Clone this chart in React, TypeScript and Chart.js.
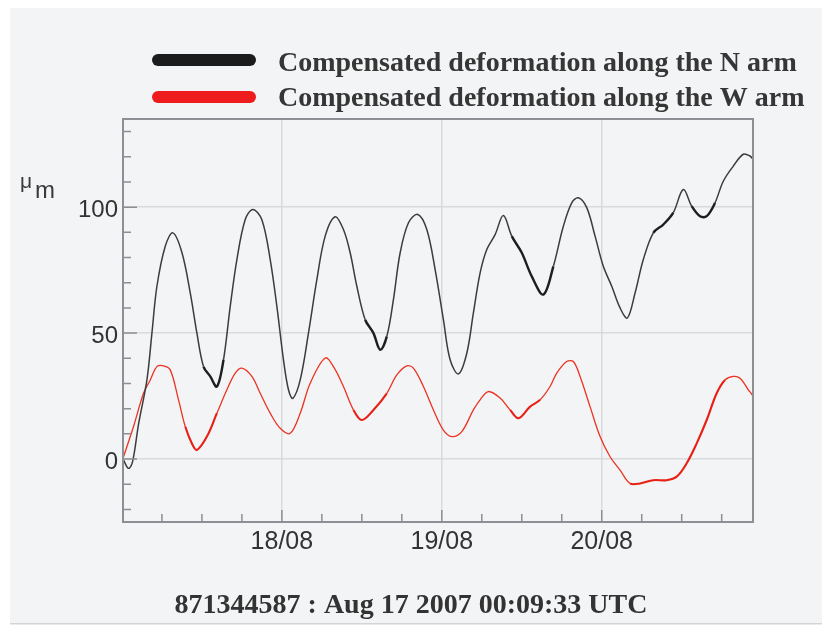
import React, { useEffect, useRef } from 'react';
import { Chart, registerables } from 'chart.js';

Chart.register(...registerables);

// ---- data (hours since Aug 17 2007 00:00 UTC, deformation in μm) ----
const seriesNames = [
  'Compensated deformation along the N arm',
  'Compensated deformation along the W arm',
];
const seriesColors = ['#3c3c3c', '#ec3323'];
const noisyColors = ['#1e1e1e', '#e81f14'];
const legendColors = ['#1c1c1c', '#ee1c1c'];
const footerText = '871344587 : Aug 17 2007 00:09:33 UTC';
const yUnitPrefix = 'μ';
const yUnitBase = 'm';

const hoursN = [0.16, 0.99, 1.6, 2.5, 3.75, 4.5, 5.25, 6.5, 7.65, 9.0, 10.25, 11.25, 12.24, 13.25, 14.25, 15.24, 16.25, 17.25, 18.5, 19.65, 21.0, 22.25, 23.25, 24.24, 24.99, 25.65, 26.75, 27.99, 29.25, 30.5, 32.0, 33.24, 34.25, 35.25, 36.5, 37.74, 38.75, 39.75, 40.74, 41.75, 43.0, 44.4, 45.75, 47.0, 48.24, 49.25, 50.5, 51.75, 52.74, 53.75, 54.75, 56.0, 57.24, 58.5, 60.0, 61.5, 63.24, 64.74, 66.24, 67.5, 68.49, 69.75, 71.0, 72.24, 73.5, 74.75, 75.84, 77.0, 78.24, 79.74, 81.24, 82.74, 84.24, 85.5, 86.75, 87.75, 89.0, 90.24, 91.74, 93.24, 94.25, 94.7];
const valuesN = [0, -3.7, -1, 14, 31.4, 50, 68.6, 84.5, 89.8, 82, 66, 50, 36.7, 32.8, 28.8, 39.4, 60.6, 79.2, 95.1, 99.1, 95, 79.2, 60.6, 39.4, 27.5, 24.1, 31.4, 50, 71.2, 88.5, 96.2, 91.1, 81.9, 68.6, 55.3, 50, 43.4, 48.7, 63.3, 81.9, 93.8, 97.1, 91.1, 75.2, 55.3, 39.4, 33.8, 42, 58, 73.9, 83.2, 89.1, 96.7, 88.5, 81.9, 72.5, 65.3, 76.5, 92.4, 101.7, 103.7, 99.8, 88.5, 76.5, 68.6, 60, 56, 65.9, 79.2, 89.8, 93.1, 97.8, 107, 100.4, 96.4, 96.4, 101.7, 110.3, 116.3, 121, 120.3, 119];

const hoursW = [0.16, 1.74, 3.24, 4.25, 5.25, 6.24, 7.25, 8.49, 9.5, 10.5, 11.25, 12.75, 14.25, 15.75, 17.0, 18.0, 19.5, 20.75, 22.25, 23.75, 25.25, 26.75, 28.25, 30.5, 31.74, 33.24, 34.74, 36.0, 37.74, 39.75, 41.25, 42.75, 43.74, 45.24, 46.74, 48.24, 49.5, 51.0, 52.74, 53.75, 54.99, 56.75, 58.25, 59.49, 61.25, 62.75, 64.25, 65.25, 66.75, 67.74, 68.75, 70.25, 71.75, 73.25, 74.75, 76.25, 77.75, 79.74, 81.75, 83.25, 84.75, 86.25, 87.75, 89.25, 90.5, 91.74, 92.75, 93.99, 94.65, 94.7];
const valuesW = [0.3, 12.9, 26.1, 31.4, 36.7, 37, 35.4, 23.5, 12.9, 6.2, 3.6, 8.9, 18.2, 27.5, 34.1, 36.1, 32.8, 26.1, 18.2, 12.2, 10.2, 18.2, 30.1, 40.1, 36.7, 28.8, 19.5, 15.5, 19.5, 26.1, 33.4, 37, 36.1, 28.8, 19.5, 11.5, 8.9, 10.9, 19.5, 23.5, 26.8, 24.2, 19.5, 16.2, 20.8, 23.5, 28.8, 34.1, 38.7, 38.7, 32.8, 20.8, 8.9, 0.9, -4.4, -9.7, -9.7, -8.4, -8.4, -7, -1.7, 6.2, 15.5, 26.1, 31.4, 32.8, 32.1, 27.5, 24.8, 0];

// time spans (hours) where the recorded trace is visibly noisier / thicker
const noisySpansN = [[11.5, 14.5], [35.5, 39.5], [58.5, 63.5], [79, 81.5], [84.5, 89]];
const noisySpansW = [[9.5, 13.5], [33.5, 38], [57.5, 61.5], [75, 90]];

// axis ticks
const dayTickHours = [24, 48, 72];
const dayTickLabels = ['18/08', '19/08', '20/08'];
const yLabelValues = [0, 50, 100];
const xRange = [0.159, 94.7];
const yRange = [-25, 135];
const xMinorStep = 6;
const xMajorStep = 24;
const yMinorStep = 10;
const yMajorStep = 50;

const toPoints = (xs: number[], ys: number[]) => xs.map((x, i) => ({ x, y: ys[i] }));
const inSpans = (h: number, spans: number[][]) => spans.some(([a, b]) => h >= a && h < b);

const decorPlugin = {
  id: 'decor',
  beforeDraw(chart: any) {
    const { ctx, width, height } = chart;
    ctx.save();
    ctx.fillStyle = '#ffffff';
    ctx.fillRect(0, 0, width, height);
    ctx.fillStyle = '#f3f4f5';
    ctx.fillRect(10, 8, width - 13, height - 11);
    ctx.fillStyle = '#d4d5d8';
    ctx.fillRect(10, height - 3, width - 13, 1.5);
    ctx.restore();
  },
  afterDraw(chart: any) {
    const { ctx, chartArea: a } = chart;
    const xs = chart.scales.x;
    const ys = chart.scales.y;
    ctx.save();
    // inner tick marks
    ctx.strokeStyle = '#8d8e93';
    ctx.lineWidth = 1.5;
    ctx.beginPath();
    for (let v = Math.ceil(ys.min / yMinorStep) * yMinorStep; v <= ys.max; v += yMinorStep) {
      const py = ys.getPixelForValue(v);
      const len = v % yMajorStep === 0 ? 14 : 8;
      ctx.moveTo(a.left, py);
      ctx.lineTo(a.left + len, py);
    }
    for (let h = Math.ceil(xs.min / xMinorStep) * xMinorStep; h <= xs.max; h += xMinorStep) {
      const px = xs.getPixelForValue(h);
      const len = h % xMajorStep === 0 ? 12 : 8;
      ctx.moveTo(px, a.bottom);
      ctx.lineTo(px, a.bottom - len);
    }
    ctx.stroke();
    // frame
    ctx.strokeStyle = '#8e8f95';
    ctx.lineWidth = 2;
    ctx.strokeRect(a.left, a.top, a.right - a.left, a.bottom - a.top);

    // legend
    chart.data.datasets.forEach((ds: any, i: number) => {
      const cy = 60 + i * 37;
      ctx.strokeStyle = legendColors[i];
      ctx.lineCap = 'round';
      ctx.lineWidth = 12;
      ctx.beginPath();
      ctx.moveTo(158, cy);
      ctx.lineTo(250, cy);
      ctx.stroke();
      ctx.fillStyle = '#363636';
      ctx.font = 'bold 28px "Liberation Serif", serif';
      ctx.textAlign = 'left';
      ctx.textBaseline = 'alphabetic';
      ctx.fillText(ds.label, 278, 71 + i * 35);
    });

    // unit label
    ctx.fillStyle = '#3a3a3a';
    ctx.font = '21px "Liberation Sans", sans-serif';
    ctx.fillText(yUnitPrefix, 20, 188);
    ctx.font = '24px "Liberation Sans", sans-serif';
    ctx.fillText(yUnitBase, 35, 198);

    // footer
    ctx.fillStyle = '#333333';
    ctx.font = 'bold 28px "Liberation Serif", serif';
    ctx.textAlign = 'center';
    ctx.fillText(footerText, 411, 613);
    ctx.restore();
  },
};

export default function App() {
  const ref = useRef<HTMLCanvasElement>(null);
  useEffect(() => {
    const chart = new Chart(ref.current as HTMLCanvasElement, {
      type: 'line',
      data: {
        datasets: [
          {
            label: seriesNames[0],
            data: toPoints(hoursN, valuesN),
            borderColor: seriesColors[0],
            borderWidth: 1.5,
            pointRadius: 0,
            fill: false,
            tension: 0.35,
            segment: {
              borderWidth: (c: any) => (inSpans(c.p0.parsed.x, noisySpansN) ? 2.4 : 1.5),
              borderColor: (c: any) => (inSpans(c.p0.parsed.x, noisySpansN) ? noisyColors[0] : seriesColors[0]),
            },
          },
          {
            label: seriesNames[1],
            data: toPoints(hoursW, valuesW),
            borderColor: seriesColors[1],
            borderWidth: 1.3,
            pointRadius: 0,
            fill: false,
            tension: 0.35,
            segment: {
              borderWidth: (c: any) => (inSpans(c.p0.parsed.x, noisySpansW) ? 2.1 : 1.3),
              borderColor: (c: any) => (inSpans(c.p0.parsed.x, noisySpansW) ? noisyColors[1] : seriesColors[1]),
            },
          },
        ],
      },
      options: {
        responsive: false,
        animation: false,
        events: [],
        layout: { padding: { top: 119, right: 72, left: 0, bottom: 0 } },
        plugins: { legend: { display: false }, tooltip: { enabled: false }, title: { display: false } },
        scales: {
          x: {
            type: 'linear',
            min: xRange[0],
            max: xRange[1],
            border: { display: false },
            afterBuildTicks: (s: any) => { s.ticks = dayTickHours.map((value) => ({ value })); },
            afterFit: (s: any) => { s.height = 104; },
            grid: { drawTicks: false, color: '#d9dadd', lineWidth: 1.5 },
            ticks: {
              autoSkip: false,
              maxRotation: 0,
              padding: 5,
              color: '#333333',
              font: { family: '"Liberation Sans", sans-serif', size: 25 },
              callback: (v: any) => {
                const i = dayTickHours.indexOf(Number(v));
                return i >= 0 ? dayTickLabels[i] : '';
              },
            },
          },
          y: {
            type: 'linear',
            min: yRange[0],
            max: yRange[1],
            border: { display: false },
            afterBuildTicks: (s: any) => { s.ticks = yLabelValues.map((value) => ({ value })); },
            afterFit: (s: any) => { s.width = 123; },
            grid: { drawTicks: false, color: '#d9dadd', lineWidth: 1.5 },
            ticks: {
              padding: 5,
              labelOffset: 3,
              color: '#333333',
              font: { family: '"Liberation Sans", sans-serif', size: 24 },
              callback: (v: any) => String(v),
            },
          },
        },
      },
      plugins: [decorPlugin],
    } as any);
    return () => chart.destroy();
  }, []);
  return (
    <div style={{ position: 'fixed', left: 0, top: 0, width: 825, height: 626 }}>
      <canvas ref={ref} width={825} height={626} style={{ display: 'block' }} />
    </div>
  );
}
